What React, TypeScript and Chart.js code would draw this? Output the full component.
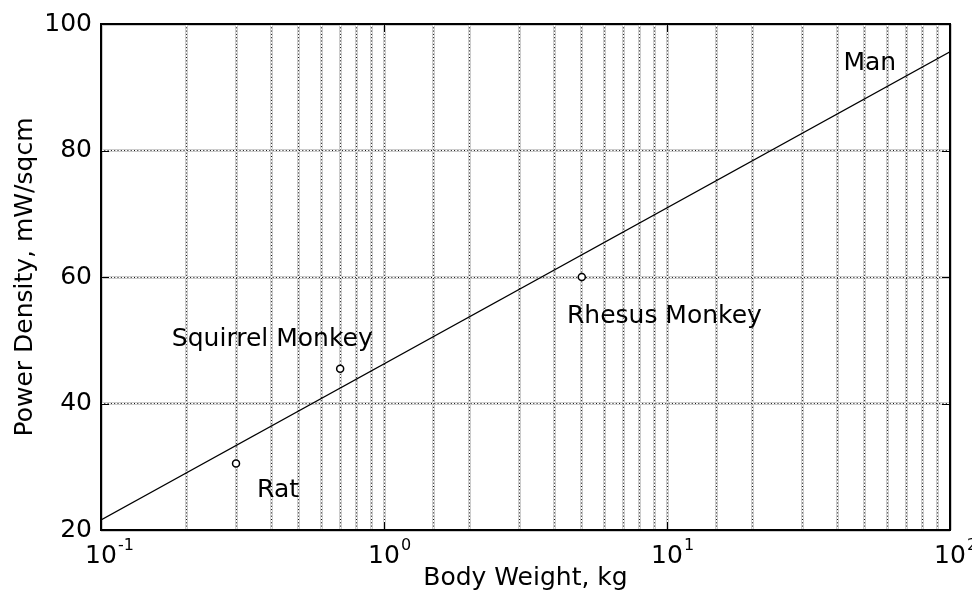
import React, { useEffect, useRef } from 'react';
import { Chart, registerables } from 'chart.js';

Chart.register(...registerables);

// ---- data ----
const fitLineX = [0.1, 100];
const fitLineY = [21.6, 95.6];

const animalNames = ['Rat', 'Squirrel Monkey', 'Rhesus Monkey'];
const bodyWeights = [0.3, 0.7, 5];
const powerDensities = [30.5, 45.5, 60];

const labelTexts = ['Man', 'Rat', 'Squirrel Monkey', 'Rhesus Monkey'];
const labelX = [42, 0.356, 0.178, 4.43];
const labelY = [93.8, 26.3, 50.1, 53.8];

const xDecades = [0.1, 1, 10, 100];
const xExponents = ['-1', '0', '1', '2'];
const yTickValues = [20, 40, 60, 80, 100];

const FONT = "'DejaVu Sans', 'Liberation Sans', sans-serif";

const frame = {
  id: 'frame',
  afterDraw(chart: any) {
    const { ctx, chartArea, scales } = chart;
    const { left, right, top, bottom } = chartArea;
    ctx.save();
    // inward ticks
    ctx.strokeStyle = '#000';
    ctx.lineWidth = 1;
    ctx.beginPath();
    yTickValues.forEach((v) => {
      const y = Math.round(scales.y.getPixelForValue(v)) + 0.5;
      ctx.moveTo(left, y);
      ctx.lineTo(left + 8, y);
      ctx.moveTo(right, y);
      ctx.lineTo(right - 8, y);
    });
    xDecades.forEach((v) => {
      const x = Math.round(scales.x.getPixelForValue(v)) + 0.5;
      ctx.moveTo(x, bottom);
      ctx.lineTo(x, bottom - 8);
      ctx.moveTo(x, top);
      ctx.lineTo(x, top + 8);
    });
    ctx.stroke();
    // box
    ctx.lineWidth = 2;
    ctx.strokeRect(left, top, right - left, bottom - top);
    // x decade labels
    ctx.fillStyle = '#000';
    ctx.textBaseline = 'middle';
    xDecades.forEach((v, i) => {
      const x = scales.x.getPixelForValue(v);
      ctx.font = `25px ${FONT}`;
      ctx.textAlign = 'center';
      ctx.fillText('10', x, 556);
      const w = ctx.measureText('10').width;
      ctx.font = `16px ${FONT}`;
      ctx.textAlign = 'left';
      ctx.fillText(xExponents[i], x + w / 2 + 1, 546);
    });
    // annotations
    ctx.font = `25px ${FONT}`;
    ctx.textAlign = 'left';
    labelTexts.forEach((t, i) => {
      ctx.fillText(t, scales.x.getPixelForValue(labelX[i]), scales.y.getPixelForValue(labelY[i]));
    });
    ctx.restore();
  },
};

function gridAxis(kind: 'x' | 'y', layer: number, extra: any = {}) {
  const colors = ['#cccccc', '#ffffff', '#111111'];
  const widths = [3, 1, 1];
  const base: any = {
    display: true,
    grid: { color: colors[layer], lineWidth: widths[layer], drawTicks: false, z: -3 + layer },
    border: { display: false, dash: layer === 2 ? [1, 2.3] : [] },
    ticks: { display: false },
  };
  if (kind === 'x') {
    return {
      ...base,
      type: 'logarithmic',
      position: 'bottom',
      min: 0.1,
      max: 100,
      afterFit: (s: any) => { s.height = 0; },
      ...extra,
    };
  }
  return {
    ...base,
    type: 'linear',
    position: 'left',
    min: 20,
    max: 100,
    ticks: { display: false, stepSize: 20 },
    afterFit: (s: any) => { s.width = 0; },
    ...extra,
  };
}

export default function App() {
  const ref = useRef<HTMLCanvasElement>(null);

  useEffect(() => {
    document.body.style.margin = '0';
    const canvas = ref.current;
    if (!canvas) return;
    const chart = new Chart(canvas, {
      type: 'scatter',
      data: {
        datasets: [
          {
            type: 'line',
            label: 'fit',
            data: fitLineX.map((x, i) => ({ x, y: fitLineY[i] })),
            borderColor: '#000',
            borderWidth: 1.3,
            pointRadius: 0,
            fill: false,
          } as any,
          {
            label: 'animals',
            data: bodyWeights.map((x, i) => ({ x, y: powerDensities[i], name: animalNames[i] })),
            borderColor: '#000',
            backgroundColor: '#fff',
            borderWidth: 1.5,
            pointRadius: 3.5,
          },
        ],
      },
      options: {
        animation: false,
        responsive: false,
        layout: { padding: { top: 23, right: 22, left: 0, bottom: 0 } },
        plugins: { legend: { display: false }, tooltip: { enabled: false } },
        scales: {
          x: gridAxis('x', 0, {
            title: {
              display: true,
              text: 'Body Weight, kg',
              color: '#000',
              font: { family: FONT, size: 25 },
              padding: { top: 0, bottom: 4 },
            },
            afterFit: (s: any) => { s.height = 67; },
          }),
          xw: gridAxis('x', 1),
          xd: gridAxis('x', 2),
          y: gridAxis('y', 0, {
            ticks: {
              display: true,
              stepSize: 20,
              color: '#000',
              padding: 9,
              font: { family: FONT, size: 25 },
            },
            title: {
              display: true,
              text: 'Power Density, mW/sqcm',
              color: '#000',
              font: { family: FONT, size: 25 },
              padding: { top: 10, bottom: 0 },
            },
            afterFit: (s: any) => { s.width = 101; },
          }),
          yw: gridAxis('y', 1),
          yd: gridAxis('y', 2),
        } as any,
      },
      plugins: [frame],
    });
    return () => chart.destroy();
  }, []);

  return (
    <div style={{ width: 972, height: 597 }}>
      <canvas ref={ref} width={972} height={597} style={{ display: 'block' }} />
    </div>
  );
}
